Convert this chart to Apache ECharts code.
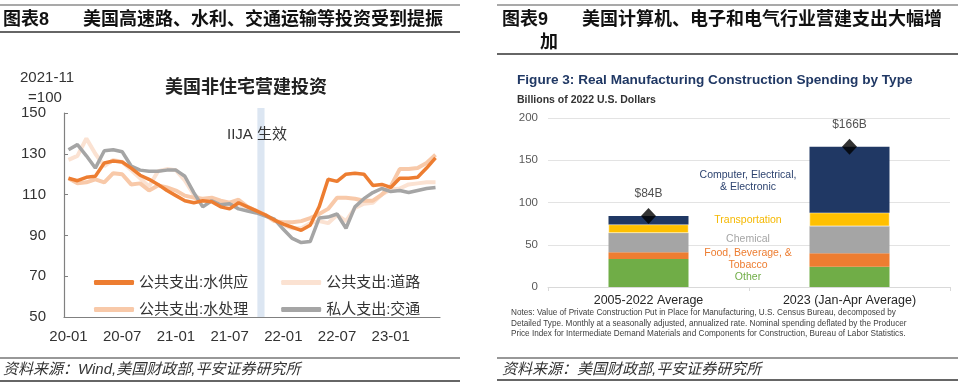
<!DOCTYPE html>
<html><head><meta charset="utf-8">
<script src="https://cdn.jsdelivr.net/npm/echarts@6/dist/echarts.min.js"></script>
<style>html,body{margin:0;padding:0;background:#fff}#c{width:960px;height:387px}</style>
</head><body><div id="c"></div>
<script>
// ---------- Left chart data (2021-11 = 100) ----------
const months = ['20-01','20-02','20-03','20-04','20-05','20-06','20-07','20-08','20-09','20-10','20-11','20-12',
  '21-01','21-02','21-03','21-04','21-05','21-06','21-07','21-08','21-09','21-10','21-11','21-12',
  '22-01','22-02','22-03','22-04','22-05','22-06','22-07','22-08','22-09','22-10','22-11','22-12',
  '23-01','23-02','23-03','23-04','23-05','23-06'];
const waterSupply = [118,116.8,118.5,119,125.5,126.5,126,123,119.5,117.5,115,112,
  109.5,107,106,107,106.5,104,103,106,104,102,100,97.5,
  95.5,94,92.5,95,104,117.5,116.5,120,120.5,120,114.5,115,
  113.5,118,118,118.5,123,128];
const roads = [127,129,137.5,130,124,127,126,122,118,114,121.5,122.5,
  122,117,110,107,108,106,104.5,105.5,103,101.5,100,97.5,
  95,93.5,93.5,96,97,96,100,97,103.5,105.5,106,110,
  112.5,113,115,115.5,116,116];
const waterTreatment = [118,115.5,116,117.5,116,120.5,120,115,115.5,112,114.5,113.5,
  112,109.5,108.5,108,108.5,107,106,107.5,104,102,100,97,
  96.5,96.5,97,98.5,100.5,103,108.5,108.5,108,107,107,110,
  114,122.5,122.5,123,125.5,129.5];
const privateTransport = [132,134.5,129,123,131.5,132,131,124,122,121.5,121.5,122,
  122,119,111,104,107,105,105.5,103,102,101,99.5,98,
  93,88.5,86.5,87,98.5,99,100.5,93.5,104,108,111,113,
  111.5,112,111,112,113,113.5];
const iijaBand = [21.6, 22.4];

// ---------- Right chart data (Billions of 2022 U.S. Dollars) ----------
const barCategories = ['2005-2022 Average', '2023 (Jan-Apr Average)'];
const other = [33, 24];
const food = [8, 16];
const chemical = [23, 32];
const transportation = [10, 16];
const computer = [10, 78];
const totals = [84, 166];

const FF = "'Liberation Sans', Arial, 'Noto Sans CJK SC', sans-serif";
const CJK = "'Liberation Sans', 'Noto Sans CJK SC', sans-serif";

const chart = echarts.init(document.getElementById('c'), null, {renderer: 'canvas'});

function hline(x1, x2, y, w, c) {
  return {type: 'line', shape: {x1: x1, y1: y, x2: x2, y2: y}, style: {stroke: c || '#404040', lineWidth: w}, silent: true};
}
function txt(x, y, s, opt) {
  return {type: 'text', x: x, y: y, z: 100, style: Object.assign({text: s, fontFamily: FF, fontSize: 11, fill: '#333', textVerticalAlign: 'middle', textAlign: 'left'}, opt || {}), silent: true};
}

const option = {
  backgroundColor: '#fff',
  animation: false,
  textStyle: {fontFamily: FF},
  grid: [
    {left: 64, top: 113, width: 376, height: 204},
    {left: 548, top: 118, width: 402, height: 169}
  ],
  xAxis: [
    {type: 'category', gridIndex: 0, data: months, boundaryGap: true,
      axisLine: {lineStyle: {color: '#808080', width: 1.2}},
      axisTick: {inside: true, length: 4, interval: 5, lineStyle: {color: '#808080'}},
      axisLabel: {interval: 5, fontSize: 15, color: '#333', margin: 12, fontFamily: FF},
      splitLine: {show: false}},
    {type: 'value', gridIndex: 0, min: 0, max: 42, show: false},
    {type: 'category', gridIndex: 1, data: barCategories,
      axisLine: {lineStyle: {color: '#D9D9D9'}},
      axisTick: {show: true, length: 4, lineStyle: {color: '#D9D9D9'}},
      axisLabel: {fontSize: 12.5, color: '#262626', margin: 7, fontFamily: FF}}
  ],
  yAxis: [
    {type: 'value', gridIndex: 0, min: 50, max: 150, interval: 20,
      axisLine: {show: true, lineStyle: {color: '#808080', width: 1.2}},
      axisTick: {show: true, inside: true, length: 4, lineStyle: {color: '#808080'}},
      axisLabel: {fontSize: 15, color: '#333', margin: 18, fontFamily: FF},
      splitLine: {show: false}},
    {type: 'value', gridIndex: 1, min: 0, max: 200, interval: 50,
      axisLine: {show: false}, axisTick: {show: false},
      axisLabel: {fontSize: 11.5, color: '#595959', margin: 10, fontFamily: FF},
      splitLine: {lineStyle: {color: '#E3E3E3', width: 1}}}
  ],
  legend: [
    {left: 89, top: 270, itemWidth: 40, itemHeight: 5, itemGap: 33, icon: 'roundRect',
      data: ['公共支出:水供应', '公共支出:道路'],
      textStyle: {fontSize: 15, color: '#333', fontFamily: CJK}, selectedMode: false},
    {left: 89, top: 297, itemWidth: 40, itemHeight: 5, itemGap: 33, icon: 'roundRect',
      data: ['公共支出:水处理', '私人支出:交通'],
      textStyle: {fontSize: 15, color: '#333', fontFamily: CJK}, selectedMode: false}
  ],
  series: [
    {type: 'line', xAxisIndex: 1, yAxisIndex: 0, data: [], silent: true, z: 1,
      markArea: {silent: true, itemStyle: {color: '#DCE6F2'}, data: [[{xAxis: iijaBand[0], y: 108}, {xAxis: iijaBand[1], yAxis: 50}]]}},
    {name: '公共支出:道路', type: 'line', xAxisIndex: 0, yAxisIndex: 0, data: roads, showSymbol: false,
      lineStyle: {width: 4, color: '#FBE2D2'}, itemStyle: {color: '#FBE2D2'}},
    {name: '公共支出:水处理', type: 'line', xAxisIndex: 0, yAxisIndex: 0, data: waterTreatment, showSymbol: false,
      lineStyle: {width: 4, color: '#F8C9A9'}, itemStyle: {color: '#F8C9A9'}},
    {name: '私人支出:交通', type: 'line', xAxisIndex: 0, yAxisIndex: 0, data: privateTransport, showSymbol: false,
      lineStyle: {width: 3.5, color: '#A5A5A5'}, itemStyle: {color: '#A5A5A5'}},
    {name: '公共支出:水供应', type: 'line', xAxisIndex: 0, yAxisIndex: 0, data: waterSupply, showSymbol: false,
      lineStyle: {width: 3.5, color: '#ED7D31'}, itemStyle: {color: '#ED7D31'}},

    {name: 'Other', type: 'bar', stack: 't', xAxisIndex: 2, yAxisIndex: 1, data: other, barWidth: 80, itemStyle: {color: '#70AD47'}},
    {name: 'Food', type: 'bar', stack: 't', xAxisIndex: 2, yAxisIndex: 1, data: food, barWidth: 80, itemStyle: {color: '#ED7D31'}},
    {name: 'Chemical', type: 'bar', stack: 't', xAxisIndex: 2, yAxisIndex: 1, data: chemical, barWidth: 80, itemStyle: {color: '#A5A5A5'}},
    {name: 'Transportation', type: 'bar', stack: 't', xAxisIndex: 2, yAxisIndex: 1, data: transportation, barWidth: 80,
      itemStyle: {color: '#FFC000', borderColor: '#fff', borderWidth: 0.5}},
    {name: 'Computer', type: 'bar', stack: 't', xAxisIndex: 2, yAxisIndex: 1, data: computer, barWidth: 80, itemStyle: {color: '#203864'}},
    {name: 'Total', type: 'scatter', xAxisIndex: 2, yAxisIndex: 1, data: totals, symbol: 'diamond', symbolSize: [15, 16],
      itemStyle: {color: '#000'}, z: 5,
      label: {show: true, position: 'top', distance: 8, fontSize: 12, color: '#262626', fontFamily: FF,
        formatter: function (p) { return '$' + p.value + 'B'; }}}
  ],
  graphic: [
    // left panel frame
    hline(0, 460, 5, 1.2, '#555'),
    txt(3, 20, '图表8', {fontSize: 18, fontWeight: 'bold', fill: '#111', fontFamily: CJK}),
    txt(83, 20, '美国高速路、水利、交通运输等投资受到提振', {fontSize: 18, fontWeight: 'bold', fill: '#111', fontFamily: CJK}),
    hline(0, 460, 32, 1.6, '#333'),
    txt(47, 78, '2021-11', {fontSize: 15, fill: '#333', textAlign: 'center'}),
    txt(45, 98, '=100', {fontSize: 15, fill: '#333', textAlign: 'center'}),
    txt(246, 88, '美国非住宅营建投资', {fontSize: 18, fontWeight: 'bold', fill: '#222', textAlign: 'center', fontFamily: CJK}),
    txt(257, 135, 'IIJA 生效', {fontSize: 15, fill: '#333', textAlign: 'center', fontFamily: CJK}),
    hline(0, 460, 358, 1.2, '#333'),
    txt(3, 370, '资料来源：Wind,美国财政部,平安证券研究所', {fontSize: 15, fill: '#333', fontStyle: 'italic', fontFamily: CJK}),
    hline(0, 460, 381, 1.6, '#333'),

    // right panel frame
    hline(497, 958, 5, 1.2, '#555'),
    txt(502, 20, '图表9', {fontSize: 18, fontWeight: 'bold', fill: '#111', fontFamily: CJK}),
    txt(582, 20, '美国计算机、电子和电气行业营建支出大幅增', {fontSize: 18, fontWeight: 'bold', fill: '#111', fontFamily: CJK}),
    txt(540, 43, '加', {fontSize: 18, fontWeight: 'bold', fill: '#111', fontFamily: CJK}),
    hline(497, 958, 54, 1.6, '#333'),
    txt(517, 80, 'Figure 3: Real Manufacturing Construction Spending by Type', {fontSize: 13.6, fontWeight: 'bold', fill: '#203864'}),
    txt(517, 100, 'Billions of 2022 U.S. Dollars', {fontSize: 10.5, fontWeight: 'bold', fill: '#333'}),
    txt(748, 175, 'Computer, Electrical,', {fontSize: 10.5, fill: '#2E4470', textAlign: 'center'}),
    txt(748, 187, '& Electronic', {fontSize: 10.5, fill: '#2E4470', textAlign: 'center'}),
    txt(748, 220, 'Transportation', {fontSize: 10.5, fill: '#F5B800', textAlign: 'center'}),
    txt(748, 239, 'Chemical', {fontSize: 10.5, fill: '#A5A5A5', textAlign: 'center'}),
    txt(748, 253, 'Food, Beverage, &', {fontSize: 10.5, fill: '#ED7D31', textAlign: 'center'}),
    txt(748, 265, 'Tobacco', {fontSize: 10.5, fill: '#ED7D31', textAlign: 'center'}),
    txt(748, 277, 'Other', {fontSize: 10.5, fill: '#70AD47', textAlign: 'center'}),
    txt(511, 313, 'Notes: Value of Private Construction Put in Place for Manufacturing, U.S. Census Bureau, decomposed by', {fontSize: 8.2, fill: '#404040'}),
    txt(511, 323.5, 'Detailed Type. Monthly at a seasonally adjusted, annualized rate. Nominal spending deflated by the Producer', {fontSize: 8.2, fill: '#404040'}),
    txt(511, 334, 'Price Index for Intermediate Demand Materials and Components for Construction, Bureau of Labor Statistics.', {fontSize: 8.2, fill: '#404040'}),
    hline(497, 958, 358, 1.2, '#333'),
    txt(502, 370, '资料来源：美国财政部,平安证券研究所', {fontSize: 15, fill: '#333', fontStyle: 'italic', fontFamily: CJK}),
    hline(497, 958, 380, 1.6, '#333')
  ]
};
chart.setOption(option);
</script>
</body></html>
